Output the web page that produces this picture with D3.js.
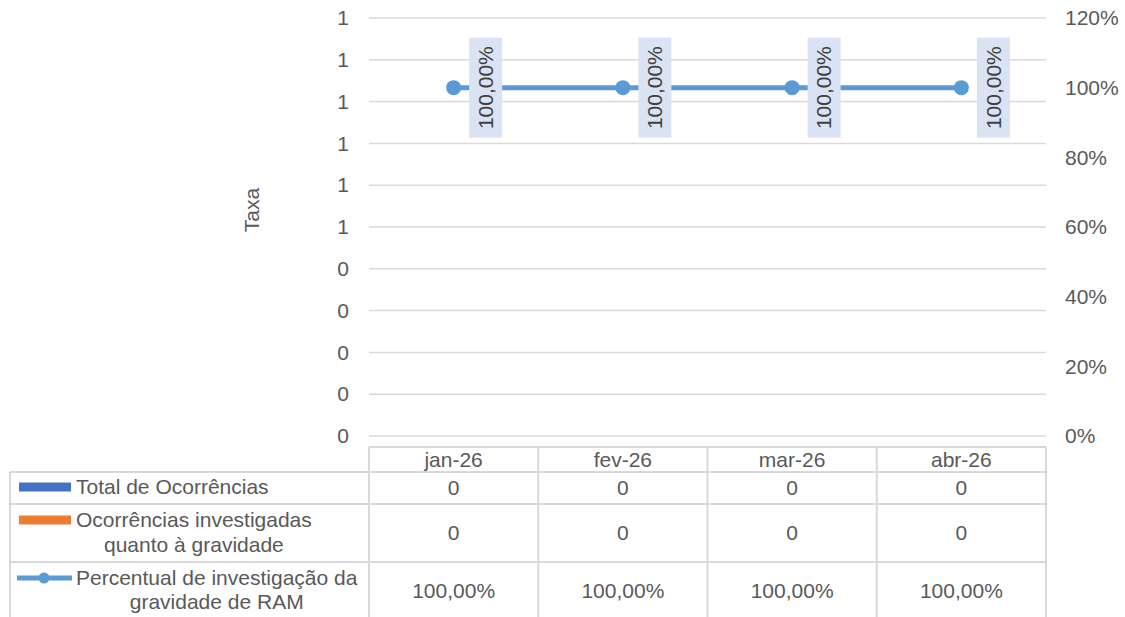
<!DOCTYPE html>
<html>
<head>
<meta charset="utf-8">
<script src="https://cdn.jsdelivr.net/npm/d3@7"></script>
<style>
  html, body { margin: 0; padding: 0; background: #fff; }
  svg { display: block; font-family: "Liberation Sans", Arial, sans-serif; }
</style>
</head>
<body>
<svg id="chart" width="1125" height="617"></svg>
<script>
// ---- data ----
const categories = ["jan-26", "fev-26", "mar-26", "abr-26"];
const totalOcorrencias = [0, 0, 0, 0];
const ocorrInvestigadas = [0, 0, 0, 0];
const percentualInvestigacao = [1.0, 1.0, 1.0, 1.0];
const leftTicks = [0, 0.1, 0.2, 0.3, 0.4, 0.5, 0.6, 0.7, 0.8, 0.9, 1.0];
const rightTicks = [0, 0.2, 0.4, 0.6, 0.8, 1.0, 1.2];
const seriesNames = ["Total de Ocorrências", "Ocorrências investigadas|quanto à gravidade", "Percentual de investigação da|gravidade de RAM"];
const tableValues = [
  totalOcorrencias.map(v => String(v)),
  ocorrInvestigadas.map(v => String(v)),
  percentualInvestigacao.map(v => (v * 100).toFixed(2).replace(".", ",") + "%")
];

// ---- layout ----
const svg = d3.select("#chart");
const plot = { left: 369, right: 1046, top: 18, bottom: 436 };
const textColor = "#595959";
const gridColor = "#d9d9d9";
const fontSize = 21;

const x = d3.scaleBand().domain(categories).range([plot.left, plot.right]).padding(0);
const yL = d3.scaleLinear().domain([0, 1]).range([plot.bottom, plot.top]);
const yR = d3.scaleLinear().domain([0, 1.2]).range([plot.bottom, plot.top]);

// gridlines
svg.append("g").selectAll("line").data(leftTicks).join("line")
  .attr("x1", plot.left).attr("x2", plot.right)
  .attr("y1", d => yL(d)).attr("y2", d => yL(d))
  .attr("stroke", gridColor).attr("stroke-width", 1.5);

// left axis
const leftAxis = d3.axisLeft(yL).tickValues(leftTicks).tickSize(0).tickPadding(20)
  .tickFormat(d => String(Math.round(d + 1e-9)));
const gL = svg.append("g").attr("transform", `translate(${plot.left},0)`).call(leftAxis);
gL.select(".domain").remove();
gL.selectAll("text").attr("fill", textColor).style("font-size", fontSize + "px")
  .style("font-family", "Liberation Sans, Arial, sans-serif");

// right axis
const rightAxis = d3.axisRight(yR).tickValues(rightTicks).tickSize(0).tickPadding(19)
  .tickFormat(d => Math.round(d * 100) + "%");
const gR = svg.append("g").attr("transform", `translate(${plot.right},0)`).call(rightAxis);
gR.select(".domain").remove();
gR.selectAll("text").attr("fill", textColor).style("font-size", fontSize + "px")
  .style("font-family", "Liberation Sans, Arial, sans-serif");

// axis title
svg.append("text")
  .attr("transform", `translate(259,${(plot.top + plot.bottom) / 2 - 17}) rotate(-90)`)
  .attr("text-anchor", "middle")
  .attr("fill", textColor).style("font-size", fontSize + "px")
  .text("Taxa");

// bars (zero height)
const inner = d3.scaleBand().domain([0, 1]).range([0, x.bandwidth()]).paddingInner(0).paddingOuter(1.2);
const barData = [];
categories.forEach((c, i) => {
  barData.push({ c, k: 0, v: totalOcorrencias[i], color: "#4472c4" });
  barData.push({ c, k: 1, v: ocorrInvestigadas[i], color: "#ed7d31" });
});
svg.append("g").selectAll("rect").data(barData).join("rect")
  .attr("x", d => x(d.c) + inner(d.k))
  .attr("width", inner.bandwidth())
  .attr("y", d => yL(d.v))
  .attr("height", d => yL(0) - yL(d.v))
  .attr("fill", d => d.color);

// line
const lineColor = "#5b9bd5";
const pts = categories.map((c, i) => ({ c, v: percentualInvestigacao[i] }));
svg.append("path").datum(pts)
  .attr("d", d3.line().x(d => x(d.c) + x.bandwidth() / 2).y(d => yR(d.v)))
  .attr("fill", "none").attr("stroke", lineColor).attr("stroke-width", 5);
svg.append("g").selectAll("circle").data(pts).join("circle")
  .attr("cx", d => x(d.c) + x.bandwidth() / 2).attr("cy", d => yR(d.v))
  .attr("r", 7.5).attr("fill", lineColor);

// data labels
const lbl = svg.append("g").selectAll("g").data(pts).join("g")
  .attr("transform", d => `translate(${x(d.c) + x.bandwidth() / 2 + 32},${yR(d.v)})`);
lbl.append("rect").attr("x", -16.5).attr("y", -50).attr("width", 33).attr("height", 100)
  .attr("fill", "#dae3f3");
lbl.append("text").attr("transform", "rotate(-90)")
  .attr("text-anchor", "middle").attr("dy", "0.35em")
  .attr("fill", "#404040").style("font-size", fontSize + "px")
  .text(d => (d.v * 100).toFixed(2).replace(".", ",") + "%");

// ---- data table ----
const tTop = 447, rowLines = [472, 504, 562], tBottom = 617, tLeft = 10;
const tg = svg.append("g").attr("stroke", gridColor).attr("stroke-width", 2);
tg.append("line").attr("x1", plot.left).attr("x2", plot.right).attr("y1", tTop).attr("y2", tTop);
rowLines.forEach(y => tg.append("line").attr("x1", tLeft).attr("x2", plot.right).attr("y1", y).attr("y2", y));
tg.append("line").attr("x1", tLeft).attr("x2", tLeft).attr("y1", rowLines[0]).attr("y2", tBottom);
const colEdges = categories.map(c => x(c)).concat([plot.right]);
colEdges.forEach(cx => tg.append("line").attr("x1", cx).attr("x2", cx).attr("y1", tTop).attr("y2", tBottom));

// header
svg.append("g").selectAll("text").data(categories).join("text")
  .attr("x", d => x(d) + x.bandwidth() / 2).attr("y", (tTop + rowLines[0]) / 2)
  .attr("dy", "0.35em").attr("text-anchor", "middle")
  .attr("fill", textColor).style("font-size", fontSize + "px").text(d => d);

// values
const rowCenters = [(rowLines[0] + rowLines[1]) / 2, (rowLines[1] + rowLines[2]) / 2, (rowLines[2] + tBottom) / 2 + 1];
tableValues.forEach((row, r) => {
  svg.append("g").selectAll("text").data(row).join("text")
    .attr("x", (d, i) => x(categories[i]) + x.bandwidth() / 2)
    .attr("y", rowCenters[r]).attr("dy", "0.35em").attr("text-anchor", "middle")
    .attr("fill", textColor).style("font-size", fontSize + "px").text(d => d);
});

// legend labels
const legendTextX = 76;
const legendRows = [
  { lines: [487], key: "bar", color: "#4472c4" },
  { lines: [520, 545], key: "bar", color: "#ed7d31" },
  { lines: [578, 602], key: "line", color: lineColor }
];
legendRows.forEach((lr, r) => {
  const parts = seriesNames[r].split("|");
  const g = svg.append("g");
  const t = g.append("text").attr("fill", textColor).style("font-size", fontSize + "px");
  const first = t.append("tspan").attr("x", legendTextX).attr("y", lr.lines[0]).attr("dy", "0.35em").text(parts[0]);
  if (parts.length > 1) {
    const w = first.node().getComputedTextLength();
    t.append("tspan").attr("x", legendTextX + w / 2).attr("y", lr.lines[1]).attr("dy", "0.35em")
      .attr("text-anchor", "middle").text(parts[1]);
  }
  const ky = lr.lines[0];
  if (lr.key === "bar") {
    g.append("rect").attr("x", 19).attr("y", ky - 4.5).attr("width", 52).attr("height", 9).attr("fill", lr.color);
  } else {
    g.append("line").attr("x1", 17).attr("x2", 72).attr("y1", ky).attr("y2", ky)
      .attr("stroke", lr.color).attr("stroke-width", 5);
    g.append("circle").attr("cx", 44).attr("cy", ky).attr("r", 5.5).attr("fill", lr.color);
  }
});
</script>
</body>
</html>
